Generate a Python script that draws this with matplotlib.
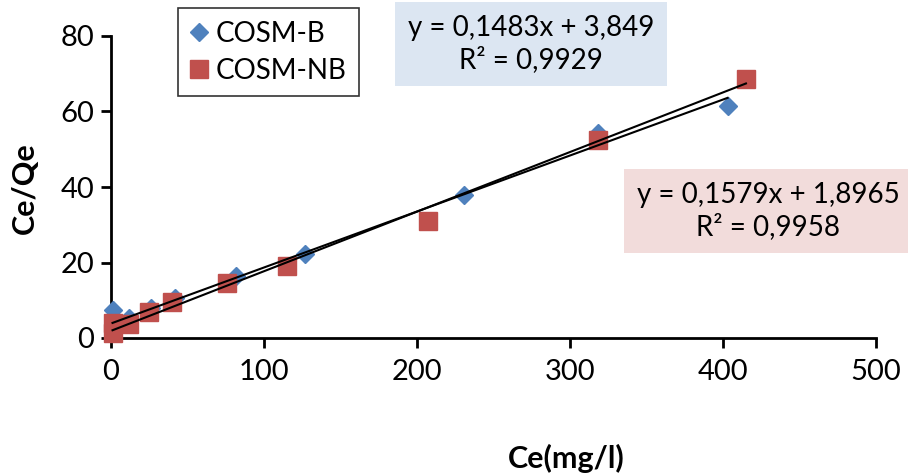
import matplotlib
matplotlib.use("Agg")
import matplotlib.pyplot as plt
import numpy as np

plt.rcParams['font.family'] = ['Lato', 'DejaVu Sans']

# COSM-B series
ce_b = [1, 12, 26, 42, 82, 127, 231, 318, 403]
qe_b = [7.4, 5.3, 8.0, 10.6, 16.4, 22.2, 37.9, 54.3, 61.5]

# COSM-NB series
ce_nb = [1, 1, 12, 25, 40, 76, 115, 207, 318, 415]
qe_nb = [1.2, 4.0, 3.6, 7.0, 9.5, 14.5, 19.0, 31.0, 52.5, 68.5]

# Linear trendline coefficients (slope, intercept, R²)
fit_b = (0.1483, 3.849, 0.9929)
fit_nb = (0.1579, 1.8965, 0.9958)

x_ticks = [0, 100, 200, 300, 400, 500]
y_ticks = [0, 20, 40, 60, 80]

blue = '#4F81BD'
red = '#C0504D'

fig = plt.figure(figsize=(9.08, 4.74), dpi=100)
ax = fig.add_axes([111/908, 1-338/474, (876-111)/908, (338-36)/474])

ax.plot(ce_b, qe_b, linestyle='none', marker='D', markersize=9, color=blue,
        label='COSM-B', zorder=3)
ax.plot(ce_nb, qe_nb, linestyle='none', marker='s', markersize=12.5, color=red,
        label='COSM-NB', zorder=3)

for xs, (m, b, r2) in ((ce_b, fit_b), (ce_nb, fit_nb)):
    xx = np.array([min(xs), max(xs)])
    ax.plot(xx, m * xx + b, color='black', linewidth=1.5, zorder=4)

ax.set_xlim(0, 500)
ax.set_ylim(0, 80)
ax.set_xticks(x_ticks)
ax.set_yticks(y_ticks)
ax.tick_params(axis='both', labelsize=21, width=2, length=7, direction='out')
ax.tick_params(axis='x', pad=8)
ax.tick_params(axis='y', pad=5)
for s in ('top', 'right'):
    ax.spines[s].set_visible(False)
for s in ('left', 'bottom'):
    ax.spines[s].set_linewidth(2)
for line in ax.lines:
    line.set_clip_on(False)

fig.text(566/908, 1-458/474, 'Ce(mg/l)', fontsize=22, fontweight='bold',
         ha='center', va='center')
fig.text(25/908, 1-188/474, 'Ce/Qe', fontsize=22, fontweight='bold',
         ha='center', va='center', rotation=90)

leg = ax.legend(loc='upper left', bbox_to_anchor=(178/908, 1-8/474),
                bbox_transform=fig.transFigure, fontsize=20, frameon=True,
                fancybox=False, edgecolor='black', handlelength=0.6,
                handletextpad=0.3, borderpad=0.45, labelspacing=0.4,
                borderaxespad=0)
leg.get_frame().set_linewidth(1.2)

def fmt(v):
    return str(v).replace('.', ',')

fig.text(531/908, 1-44/474,
         f'y = {fmt(fit_b[0])}x + {fmt(fit_b[1])}\nR² = {fmt(fit_b[2])}',
         fontsize=20, ha='center', va='center', linespacing=1.25,
         bbox=dict(boxstyle='square,pad=0.45', facecolor='#DCE6F2', edgecolor='none'))
fig.text(768/908, 1-211/474,
         f'y = {fmt(fit_nb[0])}x + {fmt(fit_nb[1])}\nR² = {fmt(fit_nb[2])}',
         fontsize=20, ha='center', va='center', linespacing=1.25,
         bbox=dict(boxstyle='square,pad=0.45', facecolor='#F2DCDB', edgecolor='none'))

fig.savefig('out.png', dpi=100)
